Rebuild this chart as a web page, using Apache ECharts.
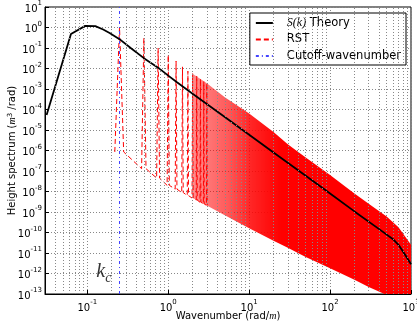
<!DOCTYPE html>
<html>
<head>
<meta charset="utf-8">
<script src="https://cdn.jsdelivr.net/npm/echarts@6/dist/echarts.min.js"></script>
<style>
html, body { margin: 0; padding: 0; background: #fff; }
#main { width: 417px; height: 325px; }
</style>
</head>
<body>
<div id="main"></div>
<script>
// S(k) theory curve
var theoryK = [0.0314, 0.0628, 0.0942, 0.1257, 0.157, 0.1885, 0.25, 0.35, 0.5, 0.75, 1, 1.27, 2, 5, 10, 20, 50, 100, 200, 400, 600, 700, 800, 900, 1000];
var theoryS = [5.4e-5, 0.48, 1.2, 1.17, 0.8, 0.54, 0.27, 0.095, 0.032, 0.011, 4.5e-3, 2.2e-3, 5.9e-4, 4.3e-5, 5.9e-6, 7.9e-7, 5.8e-8, 7.9e-9, 1.07e-9, 1.5e-10, 4.7e-11, 2.5e-11, 1.15e-11, 5.6e-12, 2.8e-12];

// RST: separate spikes at low k (top value, value next to the spike)
var gridStep = 0.0314;
var spikeK = [0.25, 0.5, 0.75, 1, 1.25, 1.5, 1.75, 2, 2.25, 2.5, 2.75, 3];
var spikeTop = [1.05, 0.31, 0.1, 0.046, 0.023, 0.012, 7.4e-3, 5.6e-3, 4.3e-3, 3.1e-3, 2.3e-3, 1.9e-3];
var spikeLow = [8.5e-7, 1.3e-7, 4.5e-8, 2.0e-8, 1.3e-8, 8.9e-9, 6.3e-9, 4.8e-9, 3.8e-9, 3.0e-9, 2.5e-9, 2.1e-9];

// RST: dense part, upper and lower envelope
var bandK = [2, 3, 5, 10, 20, 30, 50, 100, 200, 300, 500, 700, 1000];
var bandUpper = [5.6e-3, 1.9e-3, 4e-4, 6.3e-5, 8e-6, 2e-6, 4.5e-7, 6.3e-8, 8e-9, 2.5e-9, 6e-10, 1.8e-10, 2.5e-11];
var bandLower = [4.8e-9, 2.1e-9, 7e-10, 1.6e-10, 4e-11, 1.8e-11, 6.3e-12, 1.8e-12, 5e-13, 2.2e-13, 9e-14, 5e-14, 2.2e-14];

var cutoffK = 0.25;
var kcLabel = [0.16, 1.0e-12];

var xMin = 0.03, xMax = 1000, yMin = 1e-13, yMax = 10;

var theoryData = theoryK.map(function (k, i) { return [k, theoryS[i]] });
var spikeData = []
for (var i = 0; i < spikeK.length; i++) {
  spikeData.push([spikeK[i] - gridStep, spikeLow[i]])
  spikeData.push([spikeK[i], spikeTop[i]])
  spikeData.push([spikeK[i] + gridStep, spikeLow[i]])
}
var minorX = []
;[0.01, 0.1, 1, 10, 100].forEach(function (d) {
  for (var m = 2; m <= 9; m++) {
    var v = m * d
    if (v > xMin + 1e-9 && v < xMax) minorX.push(+v.toPrecision(3))
  }
})

var supRich = {
  b: { fontSize: 10, fontFamily: 'DejaVu Sans', color: '#000', lineHeight: 14, verticalAlign: 'bottom' },
  s: { fontSize: 7, fontFamily: 'DejaVu Sans', color: '#000', lineHeight: 8, verticalAlign: 'top' }
}
function powLabel (v) {
  var e = Math.round(Math.log10(v))
  return '{b|10}{s|' + e + '}'
}

var chart = echarts.init(document.getElementById('main'))
chart.setOption({
  animation: false,
  grid: {
    left: 45, right: 6, top: 7, bottom: 31, show: true, borderColor: '#000', borderWidth: 1,
    outerBoundsMode: 'none'
  },
  legend: {
    orient: 'vertical', right: 11, top: 13,
    itemWidth: 17, itemHeight: 10, itemGap: 4.5,
    padding: [4, 5, 3, 5],
    borderColor: '#000', borderWidth: 1, backgroundColor: '#fff',
    itemStyle: { color: 'transparent', borderWidth: 0, opacity: 0 },
    data: ['S(k) Theory', 'RST', 'Cutoff-wavenumber'],
    formatter: function (name) {
      return name === 'S(k) Theory' ? '{it|S(k)} Theory' : name
    },
    textStyle: {
      fontSize: 11.5, fontFamily: 'DejaVu Sans', color: '#000', padding: [0, 0, 0, 9],
      rich: { it: { fontSize: 12, fontFamily: 'Liberation Serif', fontStyle: 'italic', color: '#000' } }
    }
  },
  xAxis: {
    type: 'log', min: xMin, max: xMax,
    axisLine: { show: true, lineStyle: { color: '#000' } },
    axisTick: { inside: true, length: 4, lineStyle: { color: '#000' } },
    axisLabel: { showMinLabel: false, margin: 5, formatter: powLabel, rich: supRich },
    splitLine: { show: true, lineStyle: { type: [1, 2], color: '#888', width: 1 } },
    name: 'Wavenumber (rad/{it|m})', nameLocation: 'middle', nameGap: 17, nameMoveOverlap: false,
    nameTextStyle: {
      fontSize: 10, fontFamily: 'DejaVu Sans', color: '#000',
      rich: { it: { fontSize: 10, fontFamily: 'Liberation Serif', fontStyle: 'italic', color: '#000' } }
    }
  },
  yAxis: {
    type: 'log', min: yMin, max: yMax, interval: 1, splitNumber: 14,
    axisLine: { show: true, lineStyle: { color: '#000' } },
    axisTick: { inside: true, length: 4, lineStyle: { color: '#000' } },
    axisLabel: { margin: 3, formatter: powLabel, rich: supRich },
    splitLine: { show: true, lineStyle: { type: [1, 2], color: '#888', width: 1 } },
    name: 'Height spectrum ({it|m}{s|3} /rad)', nameLocation: 'middle', nameGap: 28, nameMoveOverlap: false,
    nameTextStyle: {
      fontSize: 10, fontFamily: 'DejaVu Sans', color: '#000',
      rich: {
        it: { fontSize: 10, fontFamily: 'Liberation Serif', fontStyle: 'italic', color: '#000' },
        s: { fontSize: 7, fontFamily: 'DejaVu Sans', color: '#000', verticalAlign: 'top', lineHeight: 8 }
      }
    }
  },
  series: [
    {
      name: 'minor-grid', type: 'line', data: [[1, 1]], symbol: 'none', silent: true, z: 1,
      lineStyle: { opacity: 0 },
      markLine: {
        silent: true, symbol: ['none', 'none'], label: { show: false },
        lineStyle: { type: [1, 2], color: '#888', width: 1 },
        data: minorX.map(function (v) { return { xAxis: v } })
      }
    },
    {
      name: 'RST band', type: 'custom', clip: true, z: 2,
      data: [[bandK[0], bandUpper[0]]],
      encode: { x: 0, y: 1 },
      renderItem: function (params, api) {
        var pts = []
        for (var i = 0; i < bandK.length; i++) pts.push(api.coord([bandK[i], bandUpper[i]]))
        for (var j = bandK.length - 1; j >= 0; j--) pts.push(api.coord([bandK[j], bandLower[j]]))
        var x0 = api.coord([2, 1])[0]
        var x1 = api.coord([25, 1])[0]
        return {
          type: 'polygon',
          shape: { points: pts },
          style: {
            fill: new echarts.graphic.LinearGradient(x0, 0, x1, 0, [
              { offset: 0, color: 'rgba(255,0,0,0.45)' },
              { offset: 0.4, color: 'rgba(255,0,0,0.65)' },
              { offset: 0.65, color: 'rgba(255,0,0,0.85)' },
              { offset: 1, color: 'rgba(255,0,0,1)' }
            ], true)
          }
        }
      }
    },
    {
      name: 'RST', type: 'line', data: spikeData, symbol: 'none', z: 3,
      lineStyle: { color: '#ff0000', width: 1, type: [5, 3] },
      itemStyle: { color: '#ff0000' }
    },
    {
      name: 'Cutoff-wavenumber', type: 'line', data: [[cutoffK, yMin], [cutoffK, yMax]], symbol: 'none', z: 3,
      lineStyle: { color: '#4444ff', width: 1, type: [3, 3, 1, 3] },
      itemStyle: { color: '#4444ff' }
    },
    {
      name: 'S(k) Theory', type: 'line', data: theoryData, symbol: 'none', z: 4,
      lineStyle: { color: '#000', width: 1.8 },
      itemStyle: { color: '#000' }
    },
    {
      name: 'kc', type: 'scatter', data: [kcLabel], symbolSize: 0, z: 5, silent: true,
      label: {
        show: true, position: 'inside', formatter: '{k|k}{c|c}',
        rich: {
          k: { fontSize: 20, fontFamily: 'Liberation Serif', fontStyle: 'italic', color: '#000', verticalAlign: 'top', lineHeight: 20 },
          c: { fontSize: 14, fontFamily: 'Liberation Serif', fontStyle: 'italic', color: '#000', verticalAlign: 'bottom', lineHeight: 24 }
        }
      }
    }
  ]
})
</script>
</body>
</html>
